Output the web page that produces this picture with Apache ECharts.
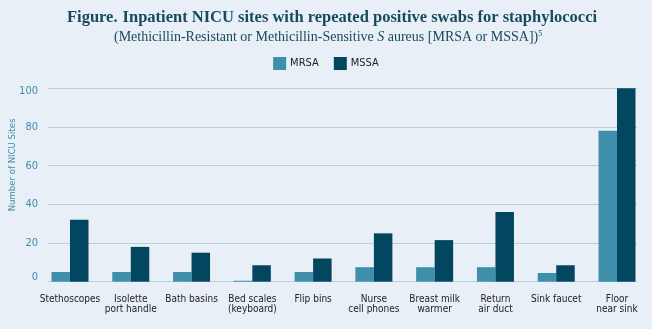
<!DOCTYPE html>
<html>
<head>
<meta charset="utf-8">
<script src="https://cdn.jsdelivr.net/npm/echarts@6/dist/echarts.min.js"></script>
<style>
html,body{margin:0;padding:0;background:#e9eff6;}
#c{width:652px;height:329px;}
</style>
</head>
<body>
<div id="c"></div>
<script>
const categories = ['Stethoscopes', 'Isolette\nport handle', 'Bath basins', 'Bed scales\n(keyboard)', 'Flip bins', 'Nurse\ncell phones', 'Breast milk\nwarmer', 'Return\nair duct', 'Sink faucet', 'Floor\nnear sink'];
const mrsa = [5, 5, 5, 0.5, 5, 7.5, 7.5, 7.5, 4.5, 78];
const mssa = [32, 18, 15, 8.5, 12, 25, 21.5, 36, 8.5, 100];
const yTicks = [0, 20, 40, 60, 80, 100];

const narrow = "'DejaVu Sans Condensed', 'Liberation Sans Narrow', 'Roboto Condensed', sans-serif";
const chart = echarts.init(document.getElementById('c'));
chart.setOption({
  backgroundColor: '#e9eff6',
  animation: false,
  title: [
    {
      text: '{b|Figure.} {n|Inpatient NICU sites with repeated positive swabs for staphylococci}',
      left: 67, top: 9, padding: 0,
      textStyle: {
        rich: {
          b: {fontFamily: 'Liberation Serif', fontWeight: 'bold', fontSize: 16.5, color: '#174a5e'},
          n: {fontFamily: 'Liberation Serif', fontWeight: 'bold', fontSize: 16.5, color: '#174a5e'}
        }
      }
    },
    {
      text: '{n|(Methicillin-Resistant or Methicillin-Sensitive }{i|S}{n| aureus [MRSA or MSSA])}{s|5}',
      left: 114, top: 30, padding: 0,
      textStyle: {
        fontWeight: 'normal',
        rich: {
          n: {fontFamily: 'Liberation Serif', fontWeight: 'normal', fontSize: 14, color: '#174a5e'},
          i: {fontFamily: 'Liberation Serif', fontWeight: 'normal', fontStyle: 'italic', fontSize: 14, color: '#174a5e'},
          s: {fontFamily: 'Liberation Serif', fontWeight: 'normal', fontSize: 8, color: '#174a5e', verticalAlign: 'top', padding: [0, 0, 6, 0]}
        }
      }
    }
  ],
  legend: {
    top: 57, left: 'center', padding: 0,
    itemWidth: 13, itemHeight: 13, itemGap: 15,
    icon: 'rect',
    textStyle: {fontFamily: narrow, fontSize: 11, color: '#222', padding: [0, 0, 0, -1]},
    data: ['MRSA', 'MSSA']
  },
  grid: [
    {left: 48, right: 15, top: 88.3, bottom: 47.3, containLabel: false, outerBoundsMode: 'none'},
    {left: 39.6, right: 4.6, top: 88.3, bottom: 47.3, containLabel: false, outerBoundsMode: 'none'}
  ],
  xAxis: [
    {gridIndex: 0, type: 'category', data: categories, show: false},
    {
      gridIndex: 1, type: 'category', data: categories,
      axisLine: {show: false}, axisTick: {show: false},
      axisLabel: {interval: 0, fontFamily: narrow, fontSize: 10, color: '#222', margin: 13, lineHeight: 10}
    }
  ],
  yAxis: [
    {
      gridIndex: 0, type: 'value', min: yTicks[0], max: yTicks[yTicks.length - 1], interval: 20,
      axisLine: {show: false}, axisTick: {show: false},
      splitLine: {lineStyle: {color: '#b5d0dd', width: 1}},
      axisLabel: {
        fontFamily: narrow, fontSize: 11, color: '#3f8dab', margin: 10,
        formatter: v => v === 0 ? '{z|0}' : (v === 100 ? '{t|100}' : String(v)),
        rich: {
          z: {fontFamily: narrow, fontSize: 11, color: '#3f8dab', padding: [0, 0, 10, 0]},
          t: {fontFamily: narrow, fontSize: 11, color: '#3f8dab', padding: [5, 0, 0, 0]}
        }
      },
      name: 'Number of NICU Sites', nameLocation: 'middle', nameGap: 30, nameMoveOverlap: false,
      nameTextStyle: {fontFamily: narrow, fontSize: 9.5, color: '#3f8dab', padding: [0, 0, 0, 40]}
    },
    {gridIndex: 1, type: 'value', min: 0, max: 100, show: false}
  ],
  series: [
    {name: 'MRSA', type: 'bar', xAxisIndex: 1, yAxisIndex: 1, data: mrsa, barWidth: 18.5, barGap: '0%', itemStyle: {color: '#3e8fab'}},
    {name: 'MSSA', type: 'bar', xAxisIndex: 1, yAxisIndex: 1, data: mssa, barWidth: 18.5, barGap: '0%', itemStyle: {color: '#03465f'}}
  ]
});
</script>
</body>
</html>
